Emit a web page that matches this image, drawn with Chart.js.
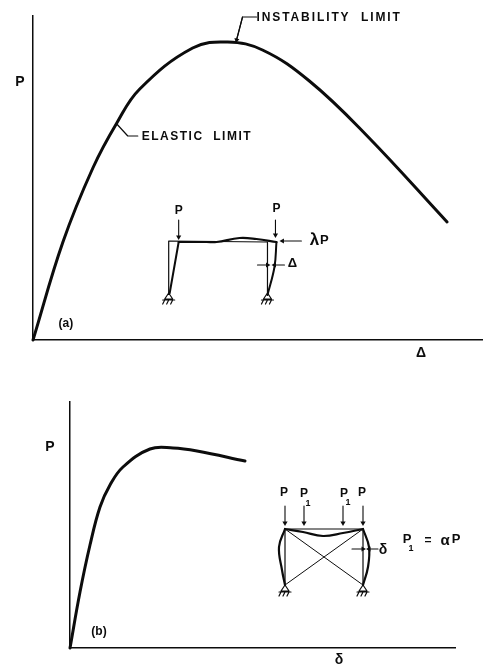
<!DOCTYPE html>
<html>
<head>
<meta charset="utf-8">
<style>
html,body{margin:0;padding:0;background:#fff;width:483px;height:666px;overflow:hidden}
#wa{position:absolute;left:0;top:0;width:486px;height:390px}
#wb{position:absolute;left:0;top:390px;width:483px;height:276px}
</style>
<script src="https://cdn.jsdelivr.net/npm/chart.js@4/dist/chart.umd.min.js"></script>
</head>
<body>
<div id="wa"><canvas id="a"></canvas></div>
<div id="wb"><canvas id="b"></canvas></div>
<script>
// ---- panel (a) values
const curveA = [[0,0],[30,98],[60,172],[84,217],[107,251],[160,292],[195,298],[230,290],[277,259],[334,205],[415,118]];
const leaderInstability = [[224,323],[210,323],[204,300]];
const leaderElastic = [[105,204],[95,204],[84,216]];
const frameA = [[136,47],[136,99],[235,98],[235,47]];
const swayLeftA = [[146,98],[137,47]];
const swayRightA = [[244,98],[242,73],[235,45]];
const beamA = [[146,98],[174,98],[184,98],[207,102],[224,101],[244,98]];
const arrowsA = [[[146,120],[146,103]],[[243,120],[243,105]],[[269,99],[250,99]],[[225,75],[235,75]],[[252,75],[242,75]]];
const hingesA = [[136,47],[235,47]];
const textsA = ['P','INSTABILITY  LIMIT','ELASTIC  LIMIT','(a)','P','P','λ','P','Δ','Δ'];

// ---- panel (b) values
const curveB = [[0,0],[10,56],[20,103],[30,141],[40,163],[53,181],[80,199],[103,200],[127,197],[175,187]];
const frameB = [[215,63],[215,119],[293,119],[293,63]];
const diagonal1B = [[215,119],[293,63]];
const diagonal2B = [[293,119],[215,63]];
const swayLeftB = [[215,119],[209,101],[212,78],[215,63]];
const swayRightB = [[293,119],[299,101],[298,81],[293,63]];
const beamB = [[215,119],[233,116],[253,112],[273,115],[293,119]];
const arrowsB = [[[215,142],[215,125]],[[234,142],[234,125]],[[273,142],[273,125]],[[293,142],[293,125]],[[282,99],[293,99]],[[308,99],[299,99]]];
const hingesB = [[215,63],[293,63]];
const textsB = ['P','(b)','P','P','1','P','1','P','δ','P','1','=','α','P','δ'];

// ---- text placement (data units), kept apart from values
const placeA = [[-13,258,14,0],[224,322,12,1.9],[109,203,12,1.5],[33,16,12,0],[146,129,12,0],[244,131,12,0],[282,100,17,0],[292,100,13,0],[260,77,13,0],[389,-13,14,0]];
const placeB = [[-20,201,14,0],[29,16,12,0],[214,155,12,0],[234,154,12,0],[238,144,9,0],[274,154,12,0],[278,145,9,0],[292,155,12,0],[313,98,14,0],[337,109,13,0],[341,99,9,0],[358,107,12,0],[375,107,15,0],[386,109,13,0],[269,-12,14,0]];

const INK = '#0c0c0c';
function line(pts, w){
  return {data:pts, borderColor:INK, borderWidth:w, pointRadius:0, fill:false, tension:0, spanGaps:false, borderCapStyle:'round', borderJoinStyle:'round'};
}
function bendy(pts, w){
  return Object.assign(line(pts,w), {tension:0.4});
}
function arrow(pts){
  const [a,b] = pts;
  const rot = Math.atan2(b[0]-a[0], b[1]-a[1]) * 180 / Math.PI;
  return Object.assign(line(pts,1.1), {
    pointStyle:'triangle',
    pointRadius:c=>c.dataIndex===pts.length-1?3:0,
    pointRotation:rot,
    pointBackgroundColor:INK,
    pointBorderColor:INK,
    pointBorderWidth:0
  });
}
function hinge(apex){
  const [x,y] = apex, n=[x,null];
  return line([[x,y],[x-4,y-6],[x+4,y-6],[x,y],n,
    [x-6,y-7],[x+6,y-7],n,
    [x-4,y-7],[x-6,y-11],n,[x,y-7],[x-2,y-11],n,[x+4,y-7],[x+2,y-11]],1.2);
}
const textPlugin = (texts, place) => ({
  id:'labels',
  afterDatasetsDraw(chart){
    const {ctx, scales:{x,y}} = chart;
    ctx.save();
    ctx.fillStyle = INK;
    ctx.textBaseline = 'middle';
    texts.forEach((t,i)=>{
      const [px,py,size,spacing] = place[i];
      ctx.font = 'bold '+size+'px "Liberation Sans", Arial, sans-serif';
      ctx.letterSpacing = spacing+'px';
      ctx.textAlign = spacing ? 'left' : 'center';
      ctx.fillText(t, x.getPixelForValue(px), y.getPixelForValue(py));
    });
    ctx.restore();
  }
});
function build(id, datasets, xMax, yMax, padding, plugin){
  const axis = (max)=>({
    type:'linear', min:0, max:max,
    ticks:{display:false},
    grid:{display:false, drawTicks:false},
    border:{display:true, color:INK, width:1.5}
  });
  return new Chart(document.getElementById(id), {
    type:'line',
    data:{datasets:datasets.map(d=>Object.assign({clip:false},d))},
    options:{
      responsive:true, maintainAspectRatio:false, animation:false,
      layout:{padding},
      scales:{x:axis(xMax), y:axis(yMax)},
      plugins:{legend:{display:false}, tooltip:{enabled:false}},
      events:[]
    },
    plugins:[plugin]
  });
}
build('a', [
  bendy(curveA,3),
  line(leaderInstability,1.2),
  arrow([leaderInstability[1],leaderInstability[2]]),
  line(leaderElastic,1.2),
  line(frameA,1.2),
  line(swayLeftA,2),
  bendy(swayRightA,2),
  bendy(beamA,2.2),
  ...arrowsA.map(arrow),
  ...hingesA.map(hinge)
], 450, 324, {left:33,right:3,top:16,bottom:50}, textPlugin(textsA,placeA));
build('b', [
  bendy(curveB,3),
  line(frameB,1.2),
  line(diagonal1B,1),
  line(diagonal2B,1),
  bendy(swayLeftB,2.2),
  bendy(swayRightB,2.2),
  bendy(beamB,2.2),
  ...arrowsB.map(arrow),
  ...hingesB.map(hinge)
], 385, 246, {left:70,right:28,top:12,bottom:18}, textPlugin(textsB,placeB));
</script>
</body>
</html>
